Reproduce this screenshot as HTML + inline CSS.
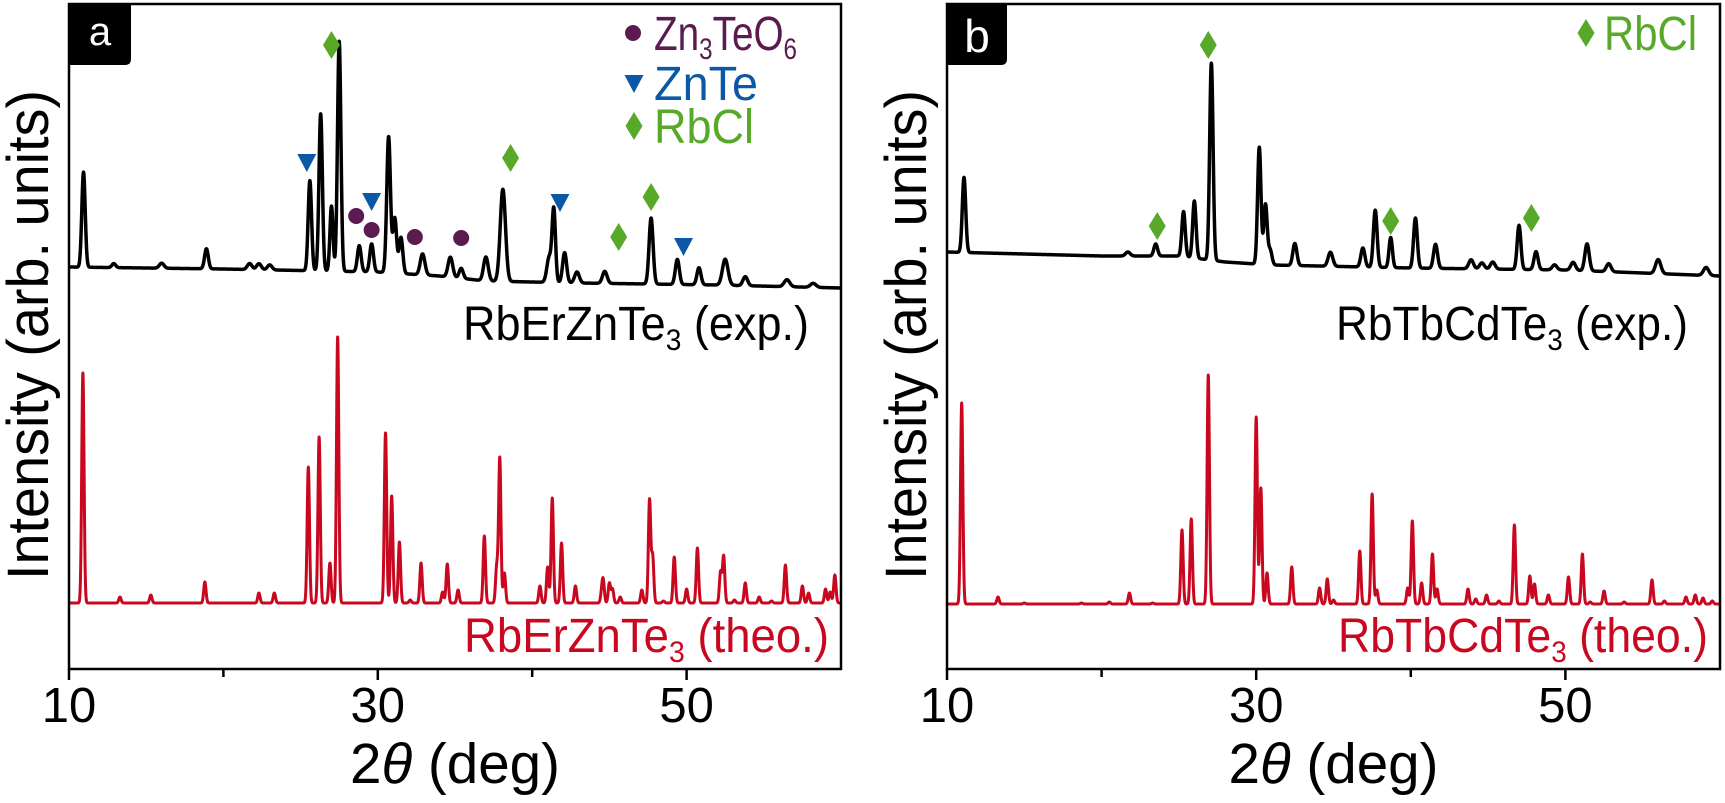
<!DOCTYPE html>
<html><head><meta charset="utf-8">
<style>
html,body{margin:0;padding:0;background:#fff;}
svg{display:block;font-family:"Liberation Sans","DejaVu Sans",sans-serif;}
</style></head>
<body>
<svg id="chart" width="1725" height="803" viewBox="0 0 1725 803" xmlns="http://www.w3.org/2000/svg"></svg>
<script>
// ---------- data ----------
const xTicksMajor = [10, 30, 50];
const xTicksMinor = [20, 40];
// Panel a experimental (RbErZnTe3 exp.)
const expAPos = [10.94,12.9,16.0,18.9,21.7,22.3,23.0,25.6,26.3,27.0,27.5,28.8,29.6,30.7,31.1,31.5,32.9,34.7,35.4,37.0,38.1,41.1,41.4,42.1,42.9,44.7,47.7,49.4,50.8,52.5,53.8,56.5,58.2];
const expAAmp = [95,4,5,20,6,6,5,90,157,65,230,26,28,136,55,36,21,20,10,24,92,25,72,30,11,12,66,25,17,26,9,7,4];
const expAWid = [0.11,0.12,0.15,0.12,0.15,0.15,0.15,0.11,0.11,0.1,0.11,0.12,0.12,0.12,0.12,0.12,0.15,0.15,0.13,0.15,0.17,0.15,0.11,0.13,0.15,0.15,0.13,0.13,0.13,0.18,0.15,0.18,0.18];
const expABaseDeg = [10,20,30,34,37,43,52,60];
const expABaseVal = [33,31,28,24,19,17,15,12];
// Panel a theoretical
const theoAPos = [10.9,13.3,15.3,18.8,22.3,23.3,25.5,26.2,26.9,27.4,30.5,30.9,31.4,32.1,32.8,34.2,34.5,35.2,36.9,37.7,37.9,38.2,40.5,41.0,41.3,41.9,42.8,44.5,44.6,45.0,45.2,45.7,47.1,47.6,47.8,48.5,49.2,50.0,50.7,52.2,52.4,53.1,53.8,54.7,55.5,56.4,57.5,57.9,59.0,59.3,59.6];
const theoAAmp = [230,6,8,21,10,10,136,166,40,266,170,107,61,3,40,11,39,13,67,36,145,30,17,36,105,60,17,9,21,20,14,6,13,103,47,2,46,14,55,31,47,3,20,6,2,38,17,10,14,11,28];
// Panel b experimental (RbTbCdTe3 exp.)
const expBPos = [11.1,21.7,23.5,25.3,26.0,27.1,30.2,30.6,30.9,32.5,34.8,36.9,37.7,38.7,40.3,41.6,43.9,44.6,45.3,47.0,48.1,49.3,50.5,51.4,52.8,56.0,59.1];
const expBAmp = [75,4,12,45,57,197,117,60,15,22,14,19,57,30,50,24,9,6,7,44,18,5,8,27,8,14,8];
const expBWid = [0.11,0.15,0.12,0.11,0.11,0.11,0.11,0.11,0.12,0.13,0.15,0.13,0.12,0.11,0.12,0.13,0.15,0.15,0.15,0.12,0.13,0.15,0.15,0.14,0.15,0.17,0.17];
const expBBaseDeg = [10,20,25,28,31,40,50,60];
const expBBaseVal = [38,34,34,28,25,22,20,14];
// Panel b theoretical
const theoBPos = [10.95,13.3,15.0,18.7,20.5,21.8,23.3,25.2,25.8,26.9,30.0,30.3,30.7,32.3,34.1,34.6,35.0,36.7,37.5,37.8,39.8,40.1,40.7,41.4,41.7,43.7,44.2,44.9,45.7,46.7,47.7,48.0,48.9,50.2,51.1,51.6,52.5,53.8,55.6,56.4,57.8,58.4,58.9,59.5];
const theoBAmp = [201,7,1,1,2,11,1,74,85,229,187,116,31,37,16,25,4,53,110,14,16,83,21,50,15,15,5,9,3,79,28,20,9,27,50,2,13,2,24,3,7,9,6,3];
// Phase markers (deg, height in intensity units)
const zn3teo6ADeg = [28.6,29.6,32.4,35.4];
const zn3teo6AVal = [84,70,63,62];
const znteADeg = [25.4,29.6,41.8,49.8];
const znteAVal = [137,98,97,53];
const rbclADeg = [27.0,38.6,45.6,47.7];
const rbclAVal = [255,142,63,103];
const rbclBDeg = [23.6,26.9,38.7,47.8];
const rbclBVal = [64,245,69,72];

// ---------- helpers ----------
const NS = "http://www.w3.org/2000/svg";
const svg = document.getElementById("chart");
function mk(tag, attrs, parent){
  const e = document.createElementNS(NS, tag);
  for (const k in attrs) e.setAttribute(k, attrs[k]);
  (parent||svg).appendChild(e);
  return e;
}
function interp(xs, ys, x){
  if (x <= xs[0]) return ys[0];
  for (let i=1;i<xs.length;i++){ if (x <= xs[i]){ const t=(x-xs[i-1])/(xs[i]-xs[i-1]); return ys[i-1]+t*(ys[i]-ys[i-1]); } }
  return ys[ys.length-1];
}
function profile(th, pos, amp, wid, defW, bDeg, bVal){
  let v = bDeg ? interp(bDeg, bVal, th) : 0;
  for (let i=0;i<pos.length;i++){
    const w = wid ? wid[i] : defW;
    const d = (th-pos[i])/w;
    if (Math.abs(d) < 8) v += amp[i]*Math.exp(-0.5*d*d);
  }
  return v;
}

const panels = [
  {id:"a", left:69, right:841, top:4, bottom:669,
   exp:{pos:expAPos, amp:expAAmp, wid:expAWid, bd:expABaseDeg, bv:expABaseVal, zero:300},
   theo:{pos:theoAPos, amp:theoAAmp, zero:603},
   expLabel:["RbErZnTe","3"," (exp.)"], theoLabel:["RbErZnTe","3"," (theo.)"]},
  {id:"b", left:947, right:1720, top:4, bottom:669,
   exp:{pos:expBPos, amp:expBAmp, wid:expBWid, bd:expBBaseDeg, bv:expBBaseVal, zero:290},
   theo:{pos:theoBPos, amp:theoBAmp, zero:604},
   expLabel:["RbTbCdTe","3"," (exp.)"], theoLabel:["RbTbCdTe","3"," (theo.)"]}
];

panels.forEach(p=>{
  const g = mk("g", {});
  
  
  const X = th => p.left + (th-10)*(p.right-p.left)/50;
  const clipId = "clip"+p.id;
  const cp = mk("clipPath", {id:clipId}, g);
  mk("rect", {x:p.left, y:p.top, width:p.right-p.left, height:p.bottom-p.top}, cp);

  let d = "";
  for (let th=10; th<=60.0001; th+=0.01){
    const v = profile(th, p.theo.pos, p.theo.amp, null, 0.075);
    d += (d?"L":"M") + X(th).toFixed(2) + "," + (p.theo.zero - v).toFixed(2);
  }
  const theo = mk("path", {d:d, fill:"none", stroke:"#c9081f", "stroke-width":3, "stroke-linejoin":"round", "clip-path":"url(#"+clipId+")"}, g);
  
  

  d = "";
  for (let th=10; th<=60.0001; th+=0.01){
    const v = profile(th, p.exp.pos, p.exp.amp, p.exp.wid, 0.12, p.exp.bd, p.exp.bv);
    d += (d?"L":"M") + X(th).toFixed(2) + "," + (p.exp.zero - v).toFixed(2);
  }
  const exp = mk("path", {d:d, fill:"none", stroke:"#000", "stroke-width":3.5, "stroke-linejoin":"round", "clip-path":"url(#"+clipId+")"}, g);
  
  

  const fr = mk("rect", {x:p.left, y:p.top, width:p.right-p.left, height:p.bottom-p.top, fill:"none", stroke:"#000", "stroke-width":2.5}, g);
  
  

  xTicksMajor.forEach(t=>{
    const tk = mk("line", {x1:X(t), x2:X(t), y1:p.bottom, y2:p.bottom+11, stroke:"#000", "stroke-width":2.5}, g);
    
    
    const tl = mk("text", {x:X(t), y:722, "font-size":49, "text-anchor":"middle", fill:"#000"}, g);
    tl.textContent = t;
    
    
  });
  xTicksMinor.forEach(t=>{
    const tk = mk("line", {x1:X(t), x2:X(t), y1:p.bottom, y2:p.bottom+8, stroke:"#000", "stroke-width":2.5}, g);
    
    
  });

  const xt = mk("text", {x:(p.left+p.right)/2, y:783, "font-size":57, "text-anchor":"middle", fill:"#000", textLength:210, lengthAdjust:"spacingAndGlyphs"}, g);
  
  
  const t1 = mk("tspan", {}, xt); t1.textContent = "2";
  const t2 = mk("tspan", {"font-style":"italic"}, xt); t2.textContent = "θ";
  const t3 = mk("tspan", {}, xt); t3.textContent = " (deg)";

  const yx = p.left - 21;
  const yt = mk("text", {x:0, y:0, "font-size":58, "text-anchor":"middle", fill:"#000", transform:"translate("+yx+",335) rotate(-90)", textLength:490, lengthAdjust:"spacingAndGlyphs"}, g);
  yt.textContent = "Intensity (arb. units)";
  
  

  const tagW = p.id==="a" ? 62 : 60;
  const tg = mk("path", {d:"M"+p.left+",4 H"+(p.left+tagW)+" V59 Q"+(p.left+tagW)+",65 "+(p.left+tagW-6)+",65 H"+p.left+" Z", fill:"#000"}, g);
  
  
  const tt = mk("text", {x:p.left+tagW/2, y:p.id==="a"?45:52, "font-size":p.id==="a"?40:46, "text-anchor":"middle", fill:"#fff"}, g);
  tt.textContent = p.id;
  
  

  function curveLabel(parts, xEnd, y, color, len, name){
    const t = mk("text", {x:xEnd, y:y, "font-size":48, "text-anchor":"end", fill:color, textLength:len, lengthAdjust:"spacingAndGlyphs"}, g);
    
    
    const a = mk("tspan", {}, t); a.textContent = parts[0];
    const b = mk("tspan", {"font-size":30, dy:10}, t); b.textContent = parts[1];
    const c = mk("tspan", {dy:-10}, t); c.textContent = parts[2];
  }
  curveLabel(p.expLabel, p.right-32, 340, "#000", p.id==="a"?346:352, 'exp-label-' + p.id);
  curveLabel(p.theoLabel, p.right-12, 652, "#c9081f", p.id==="a"?365:370, 'theo-label-' + p.id);

  p.X = X; p.g = g;
});

function diamond(cx, cy, g){ return mk("polygon", {points:(cx)+","+(cy-14)+" "+(cx+8.5)+","+cy+" "+(cx)+","+(cy+14)+" "+(cx-8.5)+","+cy, fill:"#58a82a"}, g); }
function tri(cx, cy, g){ return mk("polygon", {points:(cx-9.5)+","+(cy-9)+" "+(cx+9.5)+","+(cy-9)+" "+cx+","+(cy+9), fill:"#0b58a6"}, g); }
function circ(cx, cy, g){ return mk("circle", {cx:cx, cy:cy, r:8, fill:"#5b1b50"}, g); }

const pa = panels[0], pb = panels[1];
zn3teo6ADeg.forEach((d,i)=>{ const m = circ(pa.X(d), 300 - zn3teo6AVal[i], pa.g);
  
   });
znteADeg.forEach((d,i)=>{ const m = tri(pa.X(d), 300 - znteAVal[i], pa.g);
  
   });
rbclADeg.forEach((d,i)=>{ const m = diamond(pa.X(d), 300 - rbclAVal[i], pa.g);
  
   });
rbclBDeg.forEach((d,i)=>{ const m = diamond(pb.X(d), 290 - rbclBVal[i], pb.g);
  
   });

function legendEntry(g, shapeFn, sx, sy, tx, ty, color, parts, len, name){
  const eg = mk("g", {}, g);
  
  
  shapeFn(sx, sy, eg);
  const t = mk("text", {x:tx, y:ty, "font-size":48, fill:color, textLength:len, lengthAdjust:"spacingAndGlyphs"}, eg);
  parts.forEach((s,i)=>{
    const sub = i%2===1;
    const ts = mk("tspan", sub?{"font-size":30, dy:9}:(i>0?{dy:-9}:{}), t);
    ts.textContent = s;
  });
}
legendEntry(pa.g, circ, 633, 33, 654, 50, "#5b1b50", ["Zn","3","TeO","6"], 143, 'legend-zn3teo6');
legendEntry(pa.g, tri, 634, 84, 654, 100, "#0b58a6", ["ZnTe"], 104, 'legend-znte');
legendEntry(pa.g, diamond, 634, 126, 654, 143, "#58a82a", ["RbCl"], 100, 'legend-rbcl');
legendEntry(pb.g, diamond, 1586, 33, 1604, 50, "#58a82a", ["RbCl"], 93, 'legend-rbcl-b');
</script>
</body></html>
